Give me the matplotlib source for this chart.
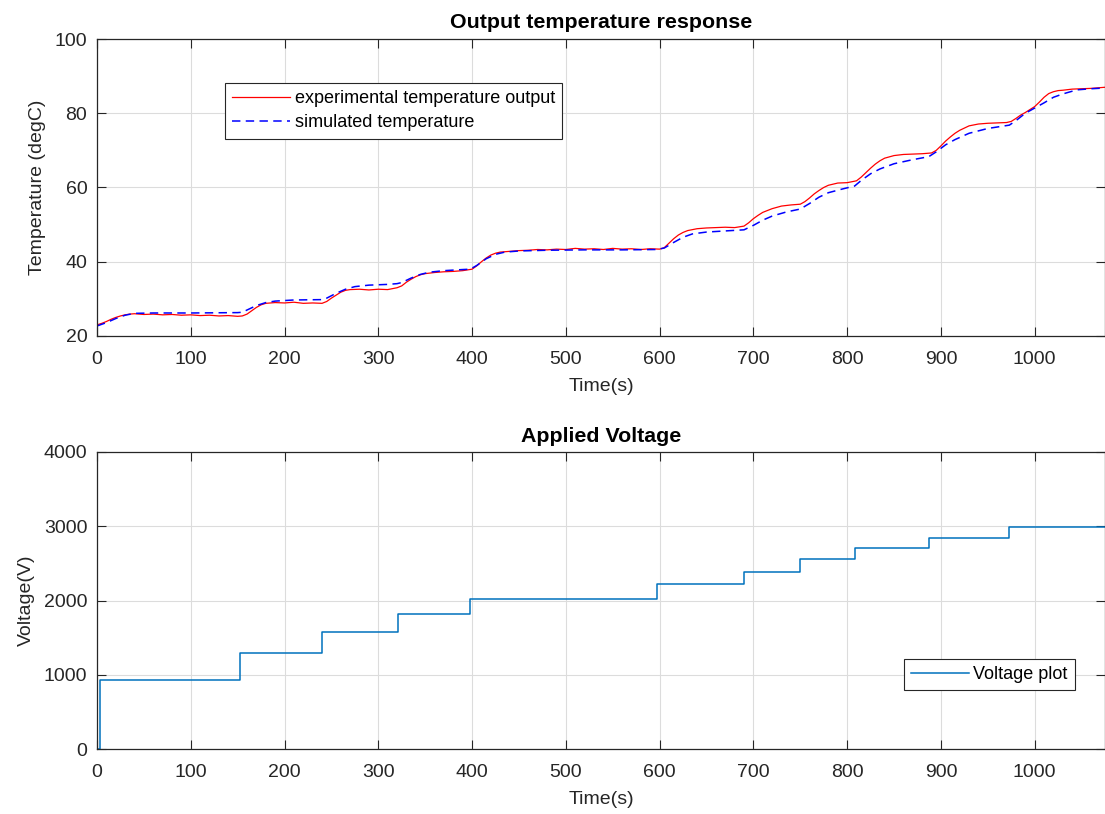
import matplotlib
matplotlib.use("Agg")
import matplotlib.pyplot as plt

# ---- data
# experimental temperature (red, noisy measurement)
exp_t = [0, 5, 10, 15, 20, 25, 30, 35, 40, 50, 60, 70, 80, 90, 100, 110, 120, 130, 140, 150,
         155, 160, 165, 170, 175, 180, 190, 200, 210, 220, 230, 240, 245, 250, 255, 260, 265,
         270, 280, 290, 300, 310, 320, 325, 330, 335, 340, 345, 350, 360, 370, 380, 390, 400,
         405, 410, 415, 420, 425, 430, 440, 450, 460, 470, 480, 490, 500, 510, 520, 530, 540,
         550, 560, 570, 580, 590, 600, 605, 610, 615, 620, 625, 630, 640, 650, 660, 670, 680,
         690, 695, 700, 705, 710, 715, 720, 730, 740, 750, 755, 760, 765, 770, 775, 780, 790,
         800, 810, 815, 820, 825, 830, 835, 840, 850, 860, 870, 880, 890, 895, 900, 905, 910,
         915, 920, 930, 940, 950, 960, 970, 975, 980, 985, 990, 995, 1000, 1005, 1010, 1015,
         1020, 1025, 1030, 1040, 1050, 1060, 1070, 1075]
exp_temp = [23.0, 23.4, 23.9, 24.5, 25.0, 25.4, 25.7, 25.9, 26.0, 25.8, 25.9, 25.7, 25.8, 25.6,
            25.7, 25.5, 25.6, 25.4, 25.5, 25.3, 25.4, 25.9, 26.8, 27.7, 28.4, 28.8, 29.0, 28.9,
            29.1, 28.8, 28.9, 28.8, 29.3, 30.2, 31.0, 31.8, 32.3, 32.5, 32.6, 32.4, 32.6, 32.5,
            33.0, 33.5, 34.5, 35.3, 36.0, 36.5, 36.8, 37.1, 37.3, 37.4, 37.6, 38.0, 38.9, 40.0,
            41.0, 41.8, 42.3, 42.6, 42.8, 43.0, 43.1, 43.3, 43.2, 43.4, 43.3, 43.6, 43.4, 43.5,
            43.3, 43.6, 43.4, 43.5, 43.3, 43.5, 43.4, 43.8, 45.0, 46.2, 47.2, 47.9, 48.4, 48.9,
            49.1, 49.2, 49.3, 49.2, 49.6, 50.5, 51.6, 52.5, 53.3, 53.8, 54.3, 55.0, 55.3, 55.5,
            56.2, 57.2, 58.3, 59.2, 60.0, 60.6, 61.2, 61.3, 61.8, 62.8, 64.0, 65.2, 66.3, 67.2,
            67.9, 68.6, 68.9, 69.0, 69.1, 69.3, 70.0, 71.2, 72.5, 73.6, 74.6, 75.4, 76.6, 77.1,
            77.3, 77.4, 77.5, 77.8, 78.6, 79.5, 80.2, 81.0, 81.8, 83.0, 84.3, 85.3, 85.8, 86.1,
            86.2, 86.5, 86.6, 86.7, 86.9, 87.0]

# simulated temperature (blue dashed)
sim_t = [0, 10, 20, 30, 40, 60, 100, 150, 155, 160, 170, 180, 190, 210, 240, 245, 255, 265,
         275, 290, 310, 320, 325, 335, 345, 355, 370, 390, 398, 405, 415, 425, 435, 450, 480,
         520, 560, 597, 605, 615, 625, 635, 650, 670, 690, 700, 710, 720, 735, 750, 760, 770,
         780, 795, 808, 815, 825, 835, 850, 870, 887, 895, 905, 915, 930, 950, 973, 980, 990,
         1000, 1010, 1020, 1030, 1045, 1060, 1075]
sim_temp = [22.7, 23.6, 24.7, 25.6, 26.1, 26.2, 26.2, 26.3, 26.4, 27.0, 28.2, 29.0, 29.4, 29.7,
            29.8, 30.2, 31.5, 32.6, 33.3, 33.7, 33.9, 34.1, 34.4, 35.6, 36.6, 37.2, 37.6, 37.9,
            38.0, 39.0, 40.8, 42.0, 42.6, 42.9, 43.1, 43.2, 43.2, 43.3, 43.7, 45.2, 46.6, 47.5,
            48.0, 48.3, 48.6, 49.8, 51.2, 52.3, 53.4, 54.2, 55.7, 57.4, 58.6, 59.6, 60.4, 61.9,
            63.7, 65.0, 66.4, 67.5, 68.3, 69.6, 71.5, 72.9, 74.6, 75.9, 76.8, 78.0, 80.0, 81.4,
            82.8, 84.3, 85.2, 86.3, 86.6, 86.8]

# applied voltage staircase (level holds from each time until the next)
volt_t = [0, 3, 152, 240, 321, 398, 597, 690, 750, 808, 887, 973, 1075]
volt_v = [0, 925, 1290, 1573, 1818, 2024, 2218, 2387, 2554, 2702, 2844, 2984, 2984]

x_ticks = list(range(0, 1001, 100))
temp_ticks = [20, 40, 60, 80, 100]
volt_ticks = [0, 1000, 2000, 3000, 4000]

plt.rcParams["font.family"] = ["Liberation Sans", "DejaVu Sans"]
AX_COLOR = "#262626"

fig = plt.figure(figsize=(11.05, 8.14), dpi=100)
ax1 = fig.add_axes([97 / 1105, 1 - 336 / 814, 1008 / 1105, 297 / 814])
ax2 = fig.add_axes([97 / 1105, 1 - 749 / 814, 1008 / 1105, 297 / 814])


def style(ax):
    ax.set_xlim(0, 1075)
    ax.set_xticks(x_ticks)
    ax.grid(True, color="#dcdcdc", linewidth=0.8)
    ax.set_axisbelow(True)
    ax.tick_params(direction="in", length=6.5, width=0.8, colors=AX_COLOR,
                   labelsize=14, top=True, right=True)
    ax.tick_params(axis="x", pad=11)
    ax.tick_params(axis="y", pad=7)
    for s in ax.spines.values():
        s.set_color(AX_COLOR)
        s.set_linewidth(0.9)


# ---- top: temperature
ax1.plot(exp_t, exp_temp, color="#ff0000", linewidth=0.9,
         label="experimental temperature output")
ax1.plot(sim_t, sim_temp, color="#0000ff", linewidth=1.1, dashes=(5.5, 3.5),
         label="simulated temperature")
style(ax1)
ax1.set_ylim(20, 100)
ax1.set_yticks(temp_ticks)
ax1.set_title("Output temperature response", fontsize=15.4, fontweight="bold",
              color="black", pad=8)
ax1.set_xlabel("Time(s)", fontsize=14, color=AX_COLOR, labelpad=7)
ax1.set_ylabel("Temperature (degC)", fontsize=14, color=AX_COLOR, labelpad=6)
leg1 = ax1.legend(loc="upper left", bbox_to_anchor=(0.127, 0.852), borderaxespad=0,
                  fontsize=13.0, fancybox=False, framealpha=1, edgecolor="#262626",
                  handlelength=3.2, handletextpad=0.25, borderpad=0.4, labelspacing=0.4)
leg1.get_frame().set_linewidth(0.8)

# ---- bottom: voltage
ax2.step(volt_t, volt_v, where="post", color="#0072bd", linewidth=1.1,
         label="Voltage plot")
style(ax2)
ax2.set_ylim(0, 4000)
ax2.set_yticks(volt_ticks)
ax2.set_title("Applied Voltage", fontsize=15.4, fontweight="bold", color="black", pad=7)
ax2.set_xlabel("Time(s)", fontsize=14, color=AX_COLOR, labelpad=7)
ax2.set_ylabel("Voltage(V)", fontsize=14, color=AX_COLOR, labelpad=6)
leg2 = ax2.legend(loc="upper right", bbox_to_anchor=(0.970, 0.303), borderaxespad=0,
                  fontsize=13.0, fancybox=False, framealpha=1, edgecolor="#262626",
                  handlelength=3.2, handletextpad=0.25, borderpad=0.4)
leg2.get_frame().set_linewidth(0.8)

fig.savefig("out.png", dpi=100)
plt.close(fig)
